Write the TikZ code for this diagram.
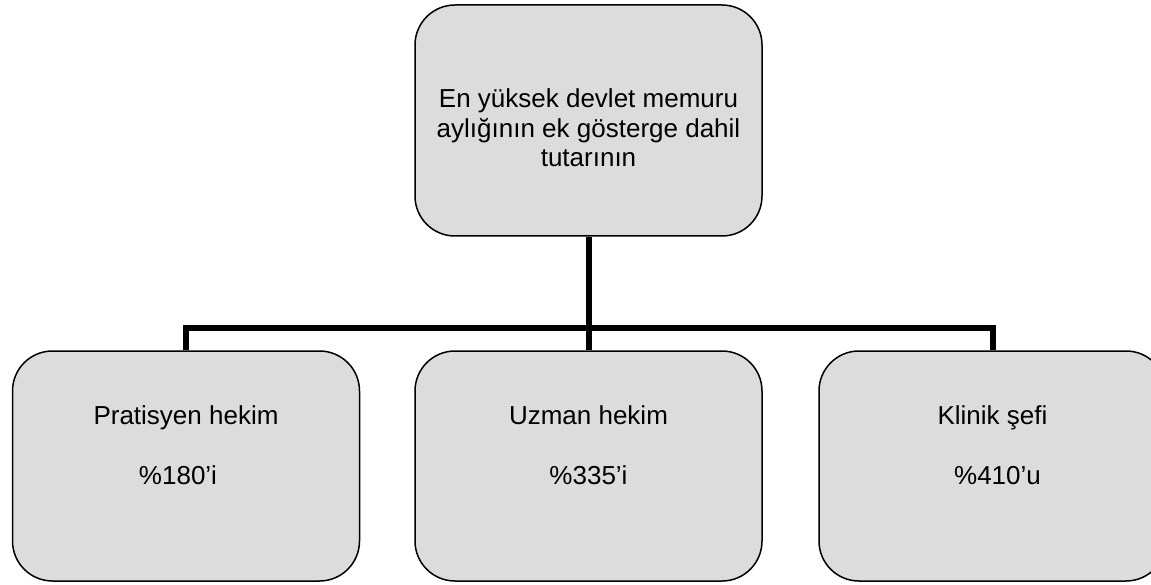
\documentclass[tikz,border=0pt]{standalone}
\usepackage{fontspec}
\setmainfont{Liberation Sans}
\definecolor{boxgray}{rgb}{0.863,0.863,0.863}

\begin{document}
\begin{tikzpicture}[x=1pt,y=-1pt,
    box/.style={draw=black,line width=1.5pt,fill=boxgray,rounded corners=40pt,
      minimum width=347pt,minimum height=230pt,inner sep=0pt},
    link/.style={line width=6pt,line join=miter},
    lbl/.style={anchor=base,font=\fontsize{26}{29.5}\selectfont}]
    \useasboundingbox (0,0) rectangle (1151,585);

    \node[box,minimum height=231pt,align=center,font=\fontsize{26}{29.5}\selectfont]
      (salary) at (588.5,120.5) {\rule{0pt}{34pt}En yüksek devlet memuru\\aylığının ek gösterge dahil\\tutarının};

    \node[box] (gp) at (186,466) {};
    \node[box] (spec) at (588.5,466) {};
    \node[box] (chief) at (992.5,466) {};

    \node[lbl] (gpname) at ([yshift=42pt]gp.center) {Pratisyen hekim};
    \node[lbl] (gprate) at ([xshift=-8pt,yshift=-18pt]gp.center) {\%180’i};
    \node[lbl] (specname) at ([yshift=42pt]spec.center) {Uzman hekim};
    \node[lbl] (specrate) at ([yshift=-18pt]spec.center) {\%335’i};
    \node[lbl] (chiefname) at ([yshift=42pt]chief.center) {Klinik şefi};
    \node[lbl] (chiefrate) at ([xshift=5pt,yshift=-18pt]chief.center) {\%410’u};

    \coordinate (bus) at (588.5,327.5);
    \draw[link]
      (salary.south) -- (bus);
    \draw[link]
      (gp.north) |- (bus) -| (chief.north);
    \draw[link]
      (bus) -- (spec.north);
\end{tikzpicture}
\end{document}
